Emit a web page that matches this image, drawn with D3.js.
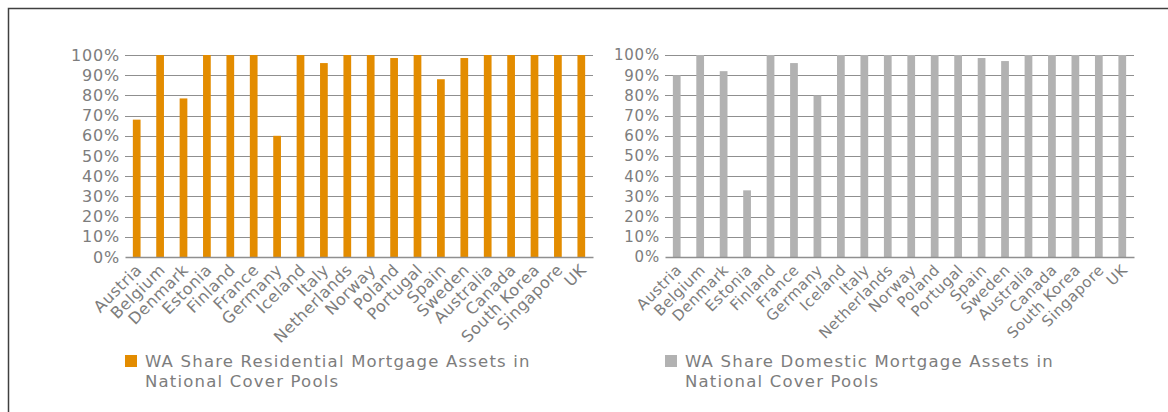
<!DOCTYPE html>
<html>
<head>
<meta charset="utf-8">
<script src="https://cdn.jsdelivr.net/npm/d3@7"></script>
<style>
  body { margin: 0; background: #fff; }
  svg { display: block; font-family: "DejaVu Sans", Verdana, sans-serif; }
</style>
</head>
<body>
<svg id="chart" width="1168" height="412"></svg>
<script>
const countries = ["Austria", "Belgium", "Denmark", "Estonia", "Finland", "France", "Germany",
  "Iceland", "Italy", "Netherlands", "Norway", "Poland", "Portugal", "Spain", "Sweden",
  "Australia", "Canada", "South Korea", "Singapore", "UK"];

// WA share of residential mortgage assets (%)
const residentialShare = [68, 100, 78.5, 100, 100, 100, 60, 100, 96, 100, 100, 98.5, 100, 88, 98.5,
  100, 100, 100, 100, 100];

// WA share of domestic mortgage assets (%)
const domesticShare = [90, 100, 92, 33, 100, 96, 80, 100, 100, 100, 100, 100, 100, 98.5, 97,
  100, 100, 100, 100, 100];

const yTicks = [0, 10, 20, 30, 40, 50, 60, 70, 80, 90, 100];

const residentialLegend = ["WA Share Residential Mortgage Assets in", "National Cover Pools"];
const domesticLegend = ["WA Share Domestic Mortgage Assets in", "National Cover Pools"];

const textColor = "#7d7d7d";
const gridColor = "#8f8f8f";

const svg = d3.select("#chart");

// outer frame (top and left edges only)
svg.append("path")
  .attr("d", "M8.5,412 V8.5 H1168")
  .attr("fill", "none")
  .attr("stroke", "#404040")
  .attr("stroke-width", 1.5);

function drawPanel(opts) {
  const { left, right, top, bottom, values, color, legend, fontSize } = opts;

  const g = svg.append("g").attr("transform", `translate(${left},${top})`);
  const w = right - left;
  const h = bottom - top;

  const x = d3.scaleBand().domain(countries).range([0, w]).paddingInner(0.67).paddingOuter(0.335);
  const y = d3.scaleLinear().domain([0, 100]).range([h, 0]);

  // gridlines
  g.append("g")
    .selectAll("line")
    .data(yTicks.filter(d => d > 0))
    .join("line")
    .attr("x1", 0)
    .attr("x2", w)
    .attr("y1", d => Math.round(y(d)) + 0.5)
    .attr("y2", d => Math.round(y(d)) + 0.5)
    .attr("stroke", gridColor)
    .attr("stroke-width", 1);

  // y axis labels
  const yAxis = g.append("g")
    .call(d3.axisLeft(y).tickValues(yTicks).tickFormat(d => d + "%").tickSize(0).tickPadding(5));
  yAxis.select(".domain").remove();
  yAxis.selectAll("text")
    .attr("fill", textColor)
    .attr("font-size", fontSize)
    .attr("letter-spacing", 0.8)
    .attr("font-family", "DejaVu Sans, Verdana, sans-serif");

  // bars
  g.append("g")
    .selectAll("rect")
    .data(values)
    .join("rect")
    .attr("x", (d, i) => x(countries[i]))
    .attr("width", x.bandwidth())
    .attr("y", d => y(d))
    .attr("height", d => h - y(d))
    .attr("fill", color);

  // x axis
  const xAxis = g.append("g")
    .attr("transform", `translate(0,${h})`)
    .call(d3.axisBottom(x).tickSize(0).tickPadding(0));
  xAxis.select(".domain")
    .attr("stroke", gridColor)
    .attr("stroke-width", 1.5);
  xAxis.selectAll("text")
    .attr("fill", textColor)
    .attr("font-size", fontSize)
    .attr("letter-spacing", 0.5)
    .attr("font-family", "DejaVu Sans, Verdana, sans-serif")
    .attr("text-anchor", "end")
    .attr("dy", 0)
    .attr("y", 0)
    .attr("transform", "translate(6,14) rotate(-45)");

  // legend
  const lg = svg.append("g").attr("transform", `translate(${left},${bottom + 98})`);
  lg.append("rect")
    .attr("x", 0)
    .attr("y", 0)
    .attr("width", 12)
    .attr("height", 12)
    .attr("fill", color);
  lg.append("text")
    .attr("x", 20)
    .attr("y", 12)
    .attr("fill", textColor)
    .attr("font-size", 16.5)
    .attr("letter-spacing", 1.2)
    .selectAll("tspan")
    .data(legend)
    .join("tspan")
    .attr("x", 20)
    .attr("dy", (d, i) => i === 0 ? 0 : 20)
    .text(d => d);
}

drawPanel({
  left: 125, right: 593, top: 55, bottom: 257,
  values: residentialShare, color: "#e38c00", legend: residentialLegend, fontSize: 16
});

drawPanel({
  left: 665, right: 1134, top: 55, bottom: 257,
  values: domesticShare, color: "#b2b2b2", legend: domesticLegend, fontSize: 15
});
</script>
</body>
</html>
